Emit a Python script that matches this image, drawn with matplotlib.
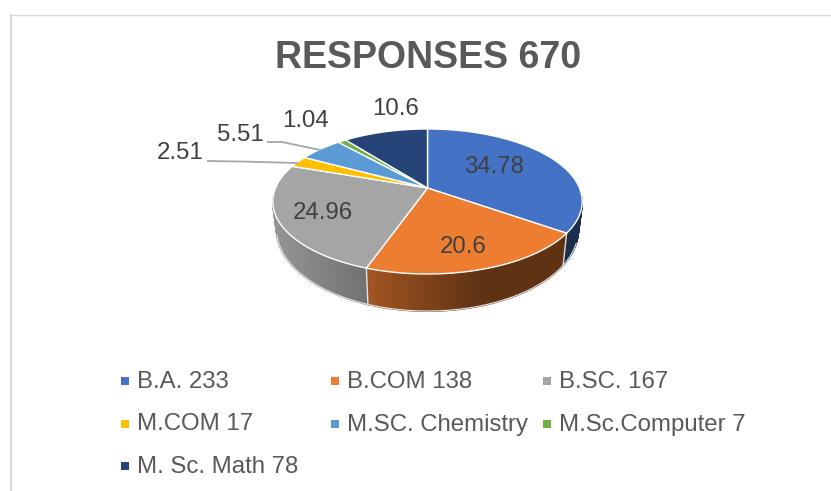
import numpy as np
import matplotlib
matplotlib.use("Agg")
import matplotlib.pyplot as plt

plt.rcParams['font.family'] = ['Liberation Sans', 'DejaVu Sans']

legend_labels = ["B.A. 233", "B.COM 138", "B.SC. 167", "M.COM 17",
                 "M.SC. Chemistry", "M.Sc.Computer 7", "M. Sc. Math 78"]
percents = [34.78, 20.6, 24.96, 2.51, 5.51, 1.04, 10.6]
colors = ["#4472C4", "#ED7D31", "#A5A5A5", "#FFC000", "#5B9BD5", "#70AD47", "#264478"]
title = "RESPONSES 670"

CX, CY = 427.5, 188
RX, RY, K = 152, 70, 0.186
TEXT = "#404040"


def top_points(ang):
    # ang in degrees clockwise from 12 o'clock, perspective view of the disc
    u = np.sin(np.radians(ang))
    v = np.cos(np.radians(ang))
    w = 1 + K * v
    return CX + RX * u / w, CY - RY * v / w


def bottom_points(ang):
    x, y = top_points(ang)
    return CX + (x - CX) * 0.975, CY + (y - CY) * 1.12 + 26.7


def shade(x):
    return np.interp(x, [273, 368, 480, 582], [0.9, 0.68, 0.4, 0.4])


fig = plt.figure(figsize=(8.31, 4.91), dpi=100)
ax = fig.add_axes([0, 0, 1, 1])
ax.set_xlim(0, 831)
ax.set_ylim(491, 0)
ax.axis("off")

# chart frame
ax.plot([10.5, 10.5], [491, 14.5], color="#d9d9d9", lw=1.6)
ax.plot([10, 831], [14.5, 14.5], color="#d9d9d9", lw=1.0)

ax.text(428, 58, title, ha="center", va="center", fontsize=27,
        fontweight="bold", color="#595959")

edges = np.concatenate([[0], np.cumsum(percents)]) * 3.6

# side wall, cut in thin strips so the shading runs across it
for i in range(len(percents)):
    lo, hi = max(edges[i], 97), min(edges[i + 1], 263)
    if hi <= lo:
        continue
    a = np.arange(lo, hi + 1.0, 1.0)
    a[-1] = hi
    rgb = np.array(matplotlib.colors.to_rgb(colors[i]))
    for a0, a1 in zip(a[:-1], a[1:]):
        x0, y0 = top_points(a0)
        x1, y1 = top_points(a1)
        x2, y2 = bottom_points(a1)
        x3, y3 = bottom_points(a0)
        c = rgb * shade((x0 + x1) / 2)
        ax.fill([x0, x1, x2, x3], [y0, y1, y2, y3], color=c, lw=1.2, zorder=1)

# seams and lower rim of the wall
for e in edges:
    if 90 < e < 270:
        xt, yt = top_points(e)
        xb, yb = bottom_points(e)
        ax.plot([xt, xb], [yt, yb], color="white", lw=1.0, alpha=0.8, zorder=2)
rim = np.linspace(110, 255, 120)
ax.plot(*bottom_points(rim), color="#e8e8e8", lw=0.8, zorder=2)

# top of the pie
for i in range(len(percents)):
    a = np.linspace(edges[i], edges[i + 1], 80)
    x, y = top_points(a)
    ax.fill(np.r_[CX, x], np.r_[CY, y], facecolor=colors[i], edgecolor="white",
            lw=1.0, joinstyle="round", zorder=3)

# leader lines
ax.plot([268, 282, 320], [142, 142, 150], color="#a6a6a6", lw=1.3, zorder=4)
ax.plot([208, 240, 297], [161, 161.5, 163], color="#a6a6a6", lw=1.3, zorder=4)

# data labels
label_pos = [(494, 167), (463, 247), (323, 213), (180, 153), (240, 135), (305, 121), (395, 109)]
for p, (lx, ly) in zip(percents, label_pos):
    ax.text(lx, ly, str(p), ha="center", va="center", fontsize=17.3, color=TEXT, zorder=5)

# legend
col_text = [137, 347, 559]
row_y = [382, 424.5, 467]
for i, name in enumerate(legend_labels):
    row, col = i // 3, i % 3
    ax.scatter(col_text[col] - 12, row_y[row] - 1, marker="s", s=26, color=colors[i], lw=0, zorder=5)
    ax.text(col_text[col], row_y[row], name, ha="left", va="center", fontsize=17.3,
            color="#595959", zorder=5)

fig.savefig("out.png", dpi=100)
